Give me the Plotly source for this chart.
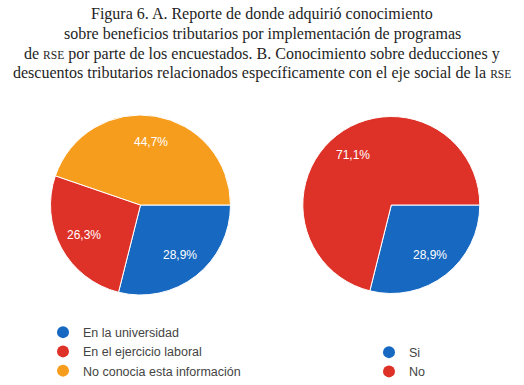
import math
import plotly.graph_objects as go

# Data
labels_a = ["En la universidad", "En el ejercicio laboral", "No conocia esta información"]
values_a = [28.9, 26.3, 44.7]
labels_b = ["Si", "No"]
values_b = [28.9, 71.1]

blue = "#1768c0"
red = "#de3229"
orange = "#f79d1d"
colors_a = [blue, red, orange]
colors_b = [blue, red]

sc = "<span style='font-size:11.5px'>RSE</span>"
title_lines = [
    "Figura 6. A. Reporte de donde adquirió conocimiento",
    "sobre beneficios tributarios por implementación de programas",
    f"de {sc} por parte de los encuestados. B. Conocimiento sobre deducciones y",
    f"descuentos tributarios relacionados específicamente con el eje social de la {sc}",
]
title_y_px = [14.5, 34, 53.5, 73]

W, H = 524, 385

def px_x(x):
    return x / W

def px_y(y):
    return 1 - y / H

# pie geometry in pixels (center x, center y, radius)
geo_a = (140.5, 205.0, 90.0)
geo_b = (391.3, 205.0, 88.5)

def domain(geo):
    cx, cy, r = geo
    return dict(x=[px_x(cx - r), px_x(cx + r)], y=[px_y(cy + r), px_y(cy - r)])

def label_annotations(values, geo, frac=0.71):
    cx, cy, r = geo
    total = sum(values)
    cum = 0.0
    anns = []
    for v in values:
        m = (cum + v / 2) / total
        cum += v
        th = 2 * math.pi * m  # clockwise from 3 o'clock
        x = cx + frac * r * math.cos(th)
        y = cy + frac * r * math.sin(th)
        anns.append(dict(
            text=f"{v:.1f}%".replace(".", ","), x=px_x(x), y=px_y(y),
            xref="paper", yref="paper", xanchor="center", yanchor="middle",
            showarrow=False,
            font=dict(family="Liberation Sans, Arial", size=12, color="white"),
        ))
    return anns

fig = go.Figure()

fig.add_trace(go.Pie(
    labels=labels_a, values=values_a, sort=False, direction="clockwise", rotation=90,
    marker=dict(colors=colors_a, line=dict(color="white", width=1)),
    textinfo="none", domain=domain(geo_a),
    showlegend=False, hoverinfo="label+percent",
))
fig.add_trace(go.Pie(
    labels=labels_b, values=values_b, sort=False, direction="clockwise", rotation=90,
    marker=dict(colors=colors_b, line=dict(color="white", width=1)),
    textinfo="none", domain=domain(geo_b),
    showlegend=False, hoverinfo="label+percent",
))

# Legend entries as circle markers
for lab, col in zip(labels_a, colors_a):
    fig.add_trace(go.Scatter(x=[None], y=[None], mode="markers", name=lab,
                             marker=dict(color=col, size=12.5, symbol="circle"),
                             legend="legend"))
for lab, col in zip(labels_b, colors_b):
    fig.add_trace(go.Scatter(x=[None], y=[None], mode="markers", name=lab,
                             marker=dict(color=col, size=12.5, symbol="circle"),
                             legend="legend2"))

title_anns = [dict(
    text=t, x=px_x(262), y=px_y(yy), xref="paper", yref="paper",
    xanchor="center", yanchor="middle", showarrow=False, align="center",
    font=dict(family="Liberation Serif, Times New Roman", size=16, color="#1e1e1e"),
) for t, yy in zip(title_lines, title_y_px)]

legend_font = dict(family="Liberation Sans, Arial", size=12.5, color="#444")
fig.update_layout(
    width=W, height=H,
    margin=dict(l=0, r=0, t=0, b=0, autoexpand=False),
    paper_bgcolor="white", plot_bgcolor="white",
    xaxis=dict(visible=False), yaxis=dict(visible=False),
    legend=dict(x=px_x(43), y=px_y(317.5), xanchor="left", yanchor="top",
                font=legend_font, itemsizing="constant", tracegroupgap=0,
                bgcolor="rgba(0,0,0,0)"),
    legend2=dict(x=px_x(369), y=px_y(337.5), xanchor="left", yanchor="top",
                 font=legend_font, itemsizing="constant", tracegroupgap=0,
                 bgcolor="rgba(0,0,0,0)"),
    annotations=title_anns + label_annotations(values_a, geo_a) + label_annotations(values_b, geo_b),
)

fig.write_html("out.html", config={"displayModeBar": False},
               post_script="document.body.style.margin='0';")
